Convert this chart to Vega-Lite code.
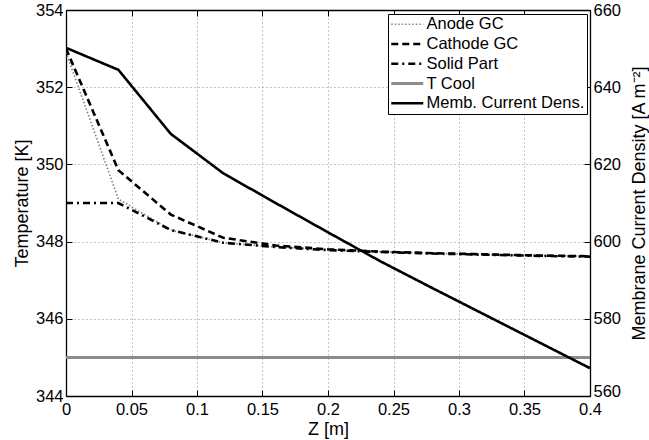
{
  "$schema": "https://vega.github.io/schema/vega-lite/v6.json",
  "width": 524,
  "height": 386,
  "autosize": {"type": "none"},
  "padding": {"left": 66, "top": 10, "right": 59, "bottom": 44},
  "background": "white",
  "config": {
    "view": {"stroke": null},
    "font": "Liberation Sans",
    "axis": {
      "domainColor": "black", "domainWidth": 1.3,
      "tickColor": "black", "tickWidth": 1, "tickSize": -6,
      "labelColor": "black", "labelFontSize": 16.5, "labelFont": "Liberation Sans",
      "titleFont": "Liberation Sans", "titleFontSize": 18, "titleFontWeight": "normal", "titleColor": "black",
      "labelFlush": false, "labelOverlap": false,
      "gridColor": "#8c8c8c", "gridDash": [1, 3], "gridWidth": 1, "gridOpacity": 1
    },
    "legend": {
      "orient": "none", "legendX": 322, "legendY": 4,
      "strokeColor": "black", "fillColor": "white", "padding": 2,
      "labelFont": "Liberation Sans", "labelFontSize": 16.5, "labelColor": "black",
      "rowPadding": 2.75, "labelOffset": 11, "symbolOffset": 9
    }
  },
  "datasets": {
    "temp": [
      {"z": 0, "series": "Anode GC", "T": 352.9},
      {"z": 0.04, "series": "Anode GC", "T": 349.1},
      {"z": 0.08, "series": "Anode GC", "T": 348.3},
      {"z": 0.12, "series": "Anode GC", "T": 347.97},
      {"z": 0.16, "series": "Anode GC", "T": 347.86},
      {"z": 0.2, "series": "Anode GC", "T": 347.79},
      {"z": 0.24, "series": "Anode GC", "T": 347.74},
      {"z": 0.28, "series": "Anode GC", "T": 347.7},
      {"z": 0.32, "series": "Anode GC", "T": 347.66},
      {"z": 0.36, "series": "Anode GC", "T": 347.64},
      {"z": 0.4, "series": "Anode GC", "T": 347.62},
      {"z": 0, "series": "Cathode GC", "T": 353.0},
      {"z": 0.04, "series": "Cathode GC", "T": 349.85},
      {"z": 0.08, "series": "Cathode GC", "T": 348.7},
      {"z": 0.12, "series": "Cathode GC", "T": 348.1},
      {"z": 0.16, "series": "Cathode GC", "T": 347.9},
      {"z": 0.2, "series": "Cathode GC", "T": 347.8},
      {"z": 0.24, "series": "Cathode GC", "T": 347.74},
      {"z": 0.28, "series": "Cathode GC", "T": 347.7},
      {"z": 0.32, "series": "Cathode GC", "T": 347.67},
      {"z": 0.36, "series": "Cathode GC", "T": 347.64},
      {"z": 0.4, "series": "Cathode GC", "T": 347.62},
      {"z": 0, "series": "Solid Part", "T": 349.0},
      {"z": 0.04, "series": "Solid Part", "T": 349.0},
      {"z": 0.08, "series": "Solid Part", "T": 348.3},
      {"z": 0.12, "series": "Solid Part", "T": 347.97},
      {"z": 0.16, "series": "Solid Part", "T": 347.86},
      {"z": 0.2, "series": "Solid Part", "T": 347.78},
      {"z": 0.24, "series": "Solid Part", "T": 347.73},
      {"z": 0.28, "series": "Solid Part", "T": 347.69},
      {"z": 0.32, "series": "Solid Part", "T": 347.66},
      {"z": 0.36, "series": "Solid Part", "T": 347.63},
      {"z": 0.4, "series": "Solid Part", "T": 347.61},
      {"z": 0, "series": "T Cool", "T": 345},
      {"z": 0.04, "series": "T Cool", "T": 345},
      {"z": 0.08, "series": "T Cool", "T": 345},
      {"z": 0.12, "series": "T Cool", "T": 345},
      {"z": 0.16, "series": "T Cool", "T": 345},
      {"z": 0.2, "series": "T Cool", "T": 345},
      {"z": 0.24, "series": "T Cool", "T": 345},
      {"z": 0.28, "series": "T Cool", "T": 345},
      {"z": 0.32, "series": "T Cool", "T": 345},
      {"z": 0.36, "series": "T Cool", "T": 345},
      {"z": 0.4, "series": "T Cool", "T": 345}
    ],
    "curr": [
      {"z": 0, "series": "Memb. Current Dens.", "J": 650.2},
      {"z": 0.04, "series": "Memb. Current Dens.", "J": 644.5},
      {"z": 0.08, "series": "Memb. Current Dens.", "J": 627.9},
      {"z": 0.12, "series": "Memb. Current Dens.", "J": 617.7},
      {"z": 0.16, "series": "Memb. Current Dens.", "J": 610.0},
      {"z": 0.2, "series": "Memb. Current Dens.", "J": 602.4},
      {"z": 0.24, "series": "Memb. Current Dens.", "J": 594.9},
      {"z": 0.28, "series": "Memb. Current Dens.", "J": 587.9},
      {"z": 0.32, "series": "Memb. Current Dens.", "J": 581.0},
      {"z": 0.36, "series": "Memb. Current Dens.", "J": 574.1},
      {"z": 0.4, "series": "Memb. Current Dens.", "J": 567.2}
    ]
  },
  "layer": [
    {
      "data": {"name": "temp"},
      "mark": {"type": "line", "clip": true},
      "encoding": {
        "x": {
          "field": "z", "type": "quantitative",
          "scale": {"domain": [0, 0.4], "nice": false, "zero": false},
          "axis": {
            "values": [0, 0.05, 0.1, 0.15, 0.2, 0.25, 0.3, 0.35, 0.4],
            "format": "~g", "title": "Z [m]", "grid": true,
            "labelPadding": 11,
            "titleX": 262, "titleY": 33, "titleAlign": "center", "titleBaseline": "middle"
          }
        },
        "y": {
          "field": "T", "type": "quantitative",
          "scale": {"domain": [344, 354], "nice": false, "zero": false},
          "axis": {
            "values": [344, 346, 348, 350, 352, 354],
            "title": "Temperature [K]", "grid": true,
            "labelPadding": 9,
            "titleX": -44, "titleY": 193, "titleAngle": 270, "titleAlign": "center", "titleBaseline": "middle"
          }
        },
        "color": {
          "field": "series", "type": "nominal",
          "scale": {
            "domain": ["Anode GC", "Cathode GC", "Solid Part", "T Cool", "Memb. Current Dens."],
            "range": ["#858585", "#000000", "#000000", "#8c8c8c", "#000000"]
          },
          "legend": {"title": null, "symbolType": "M-3.2,0H3.2", "symbolSize": 100}
        },
        "strokeDash": {
          "field": "series", "type": "nominal",
          "scale": {
            "domain": ["Anode GC", "Cathode GC", "Solid Part", "T Cool", "Memb. Current Dens."],
            "range": [[1.5, 2], [7, 4], [7, 4, 2, 4], [1, 0], [1, 0]]
          },
          "legend": {"title": null}
        },
        "strokeWidth": {
          "field": "series", "type": "nominal",
          "scale": {
            "type": "ordinal",
            "domain": ["Anode GC", "Cathode GC", "Solid Part", "T Cool", "Memb. Current Dens."],
            "range": [1.7, 2.6, 2.6, 3, 2.6]
          },
          "legend": {"title": null}
        }
      }
    },
    {
      "data": {"name": "curr"},
      "mark": {"type": "line", "clip": true},
      "encoding": {
        "x": {
          "field": "z", "type": "quantitative",
          "axis": {
            "orient": "top", "values": [0, 0.05, 0.1, 0.15, 0.2, 0.25, 0.3, 0.35, 0.4],
            "labels": false, "title": null, "grid": false
          }
        },
        "y": {
          "field": "J", "type": "quantitative",
          "scale": {"domain": [560, 660], "nice": false, "zero": false},
          "axis": {
            "orient": "right", "values": [560, 580, 600, 620, 640, 660],
            "title": "Membrane Current Density [A m⁻²]", "grid": false,
            "labelPadding": 9,
            "labelOffset": {"condition": {"test": "datum.value == 560", "value": -5}, "value": 0},
            "titleX": 49, "titleY": 193, "titleAngle": 270, "titleAlign": "center", "titleBaseline": "middle"
          }
        },
        "color": {
          "field": "series", "type": "nominal",
          "scale": {
            "domain": ["Anode GC", "Cathode GC", "Solid Part", "T Cool", "Memb. Current Dens."],
            "range": ["#858585", "#000000", "#000000", "#8c8c8c", "#000000"]
          },
          "legend": {"title": null, "symbolType": "M-3.2,0H3.2", "symbolSize": 100}
        },
        "strokeDash": {
          "field": "series", "type": "nominal",
          "scale": {
            "domain": ["Anode GC", "Cathode GC", "Solid Part", "T Cool", "Memb. Current Dens."],
            "range": [[1.5, 2], [7, 4], [7, 4, 2, 4], [1, 0], [1, 0]]
          },
          "legend": {"title": null}
        },
        "strokeWidth": {
          "field": "series", "type": "nominal",
          "scale": {
            "type": "ordinal",
            "domain": ["Anode GC", "Cathode GC", "Solid Part", "T Cool", "Memb. Current Dens."],
            "range": [1.7, 2.6, 2.6, 3, 2.6]
          },
          "legend": {"title": null}
        }
      }
    }
  ],
  "resolve": {"scale": {"y": "independent"}, "axis": {"x": "independent", "y": "independent"}}
}
